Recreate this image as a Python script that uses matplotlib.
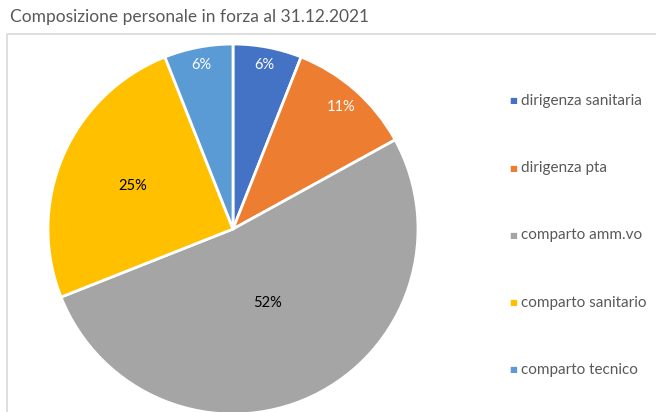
import numpy as np
import matplotlib
matplotlib.use("Agg")
import matplotlib.pyplot as plt
from matplotlib.lines import Line2D

plt.rcParams['font.family'] = ['Lato', 'DejaVu Sans']

categories = ['dirigenza sanitaria', 'dirigenza pta', 'comparto amm.vo',
              'comparto sanitario', 'comparto tecnico']
shares = [6, 11, 52, 25, 6]
colors = ['#4472C4', '#ED7D31', '#A5A5A5', '#FFC000', '#5B9BD5']
label_colors = ['white', 'white', 'black', 'black', 'white']
label_dist = [0.9, 0.88, 0.44, 0.59, 0.9]

W, H = 656, 412
fig = plt.figure(figsize=(W / 100, H / 100), dpi=100)

# chart frame (Excel style, light grey)
frame = Line2D([7 / W, 7 / W, 1.0], [0, 1 - 34 / H, 1 - 34 / H],
               transform=fig.transFigure, color='#d9d9d9', lw=1.2)
fig.add_artist(frame)

fig.text(10 / W, 1 - 17 / H, 'Composizione personale in forza al 31.12.2021',
         fontsize=12.5, color='#595959', va='center', ha='left')

# pie axes: centre (233, 229) px, radius 185 px
cx, cy, r = 233, 229, 185
ax = fig.add_axes([(cx - r) / W, (H - cy - r) / H, 2 * r / W, 2 * r / H])
wedges, texts, autotexts = ax.pie(
    shares, colors=colors, startangle=90, counterclock=False,
    autopct='%d%%', wedgeprops=dict(edgecolor='white', linewidth=2),
    textprops=dict(fontsize=10.5))
ax.set_xlim(-1, 1)
ax.set_ylim(-1, 1)
ax.set_aspect('equal')
ax.axis('off')
for w in wedges:
    w.set_clip_on(False)

for w, t, d, c in zip(wedges, autotexts, label_dist, label_colors):
    mid = np.deg2rad((w.theta1 + w.theta2) / 2)
    t.set_position((d * np.cos(mid), d * np.sin(mid)))
    t.set_color(c)
    t.set_ha('center')
    t.set_va('center')

# legend
for i, (lab, col) in enumerate(zip(categories, colors)):
    y = 1 - (101 + i * 67.2) / H
    fig.text(513 / W, y, '\u25A0', color=col, fontsize=6, ha='center', va='center',
             family='DejaVu Sans')
    fig.text(521 / W, y, lab, color='#595959', fontsize=11, ha='left', va='center')

fig.savefig('out.png', dpi=100)
